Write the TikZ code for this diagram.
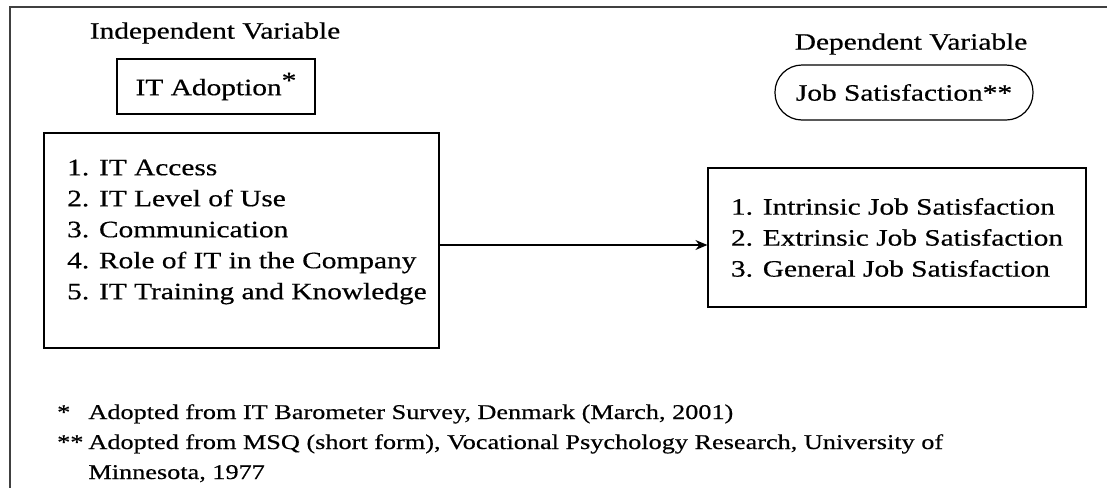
\documentclass[tikz,border=0pt]{standalone}
\usepackage{fontspec}
\setmainfont[FakeStretch=1.25, FakeBold=0.5]{Liberation Serif}
\usetikzlibrary{arrows.meta, positioning}

\begin{document}
\begin{tikzpicture}[
				x=1pt, y=-1pt,
				font=\fontsize{23.5}{31}\selectfont,
				box/.style={draw, line width=1.2pt, inner sep=0pt},
				arrow/.style={-{Stealth[length=12pt, width=10pt, inset=4pt]}, line width=1.2pt}
				]
				\useasboundingbox (0,0) rectangle (1107,488);
				
				% Frame (cut at right and bottom)
				\draw[line width=1.6pt, black!75] (1107,7) -- (10,7) -- (10,488);
				
				% Independent side
				\node (indep) at (215,33) {Independent Variable};
				\node[box, minimum width=198pt, minimum height=55pt] (adopt) at (216,86.5) {IT Adoption\raisebox{7pt}{*}};
				\node[box, minimum width=395pt, minimum height=215pt] (leftbox) at (241.5,240.5) {};
				\node[align=left, anchor=west, inner sep=0pt] (itlist) at (67,232) {1. IT Access\\2. IT Level of Use\\3. Communication\\4. Role of IT in the Company\\5. IT Training and Knowledge};
				
				% Dependent side
				\node (depend) at (911,44) {Dependent Variable};
				\node[box, rounded corners=27pt, minimum width=258pt, minimum height=55pt] (jobsat) at (904,92.5) {Job Satisfaction**};
				\node[box, minimum width=378pt, minimum height=139pt, align=left] (rightbox) at (897,237.5) {1. Intrinsic Job Satisfaction\\2. Extrinsic Job Satisfaction\\3. General Job Satisfaction};
				
				% Arrow
				\draw[arrow] ([yshift=-4.5pt]leftbox.east) -- ([yshift=-7.5pt]rightbox.west);
				
				% Notes
				\node[anchor=west, inner sep=0pt, font=\fontsize{21}{30}\selectfont] (notes) at (57,443) {\begin{tabular}{@{}l@{\hspace{5pt}}l@{}}
						* & Adopted from IT Barometer Survey, Denmark (March, 2001)\\
						{**} & Adopted from MSQ (short form), Vocational Psychology Research, University of\\
						& Minnesota, 1977
				\end{tabular}};
				
			\end{tikzpicture}
\end{document}
